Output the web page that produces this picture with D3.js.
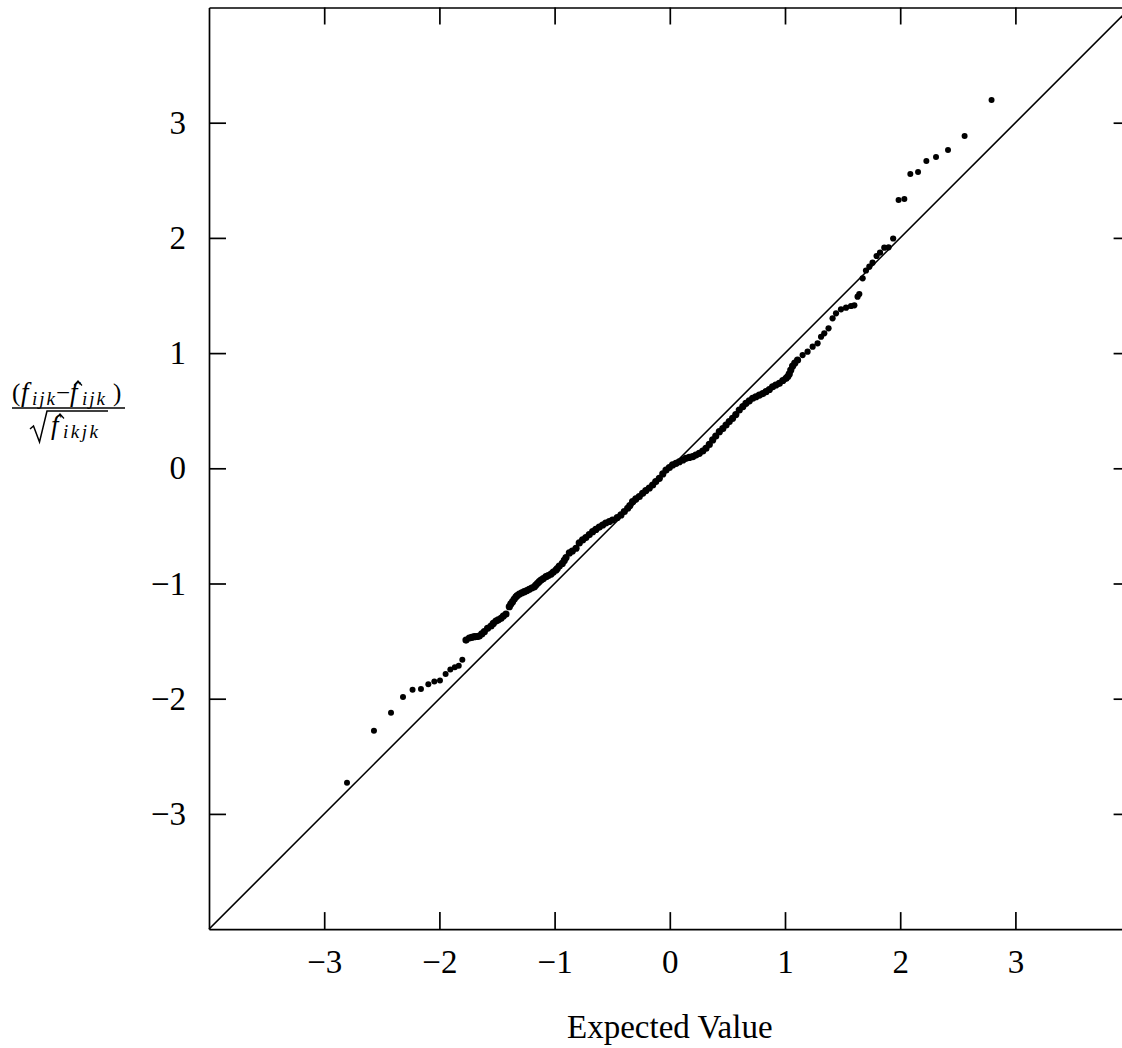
<!DOCTYPE html>
<html>
<head>
<meta charset="utf-8">
<script src="https://cdn.jsdelivr.net/npm/d3@7"></script>
<style>
body { margin: 0; background: #fff; }
</style>
</head>
<body>
<div id="qq-plot"></div>
<script>
// tick values
var xTicks = [-3, -2, -1, 0, 1, 2, 3];
var yTicks = [-3, -2, -1, 0, 1, 2, 3];
// reference line y = x, over the whole axis range
var refLine = [-4, 4];

// [expected value, standardized residual]
var lowerTail = [
  [-2.802, -2.729], [-2.568, -2.278], [-2.420, -2.122], [-2.316, -1.985], [-2.233, -1.922],
  [-2.160, -1.916], [-2.096, -1.875], [-2.044, -1.851], [-1.995, -1.842], [-1.946, -1.786],
  [-1.905, -1.747], [-1.866, -1.727], [-1.832, -1.714], [-1.801, -1.661]
];

// dense middle part, points overlap into a thick band
var body = [
  [-1.769, -1.491], [-1.740, -1.473], [-1.719, -1.467], [-1.697, -1.462], [-1.675, -1.460],
  [-1.654, -1.456], [-1.632, -1.438], [-1.610, -1.418], [-1.582, -1.389], [-1.552, -1.369],
  [-1.532, -1.347], [-1.509, -1.326], [-1.489, -1.315], [-1.465, -1.302], [-1.445, -1.282],
  [-1.422, -1.265], [-1.393, -1.201], [-1.380, -1.178], [-1.365, -1.158], [-1.350, -1.135],
  [-1.335, -1.115], [-1.324, -1.104], [-1.306, -1.091], [-1.285, -1.082], [-1.263, -1.071],
  [-1.241, -1.061], [-1.220, -1.050], [-1.198, -1.039], [-1.176, -1.028], [-1.163, -1.013],
  [-1.148, -0.998], [-1.133, -0.983], [-1.118, -0.970], [-1.098, -0.957], [-1.075, -0.941],
  [-1.055, -0.931], [-1.031, -0.918], [-1.011, -0.900], [-0.988, -0.883], [-0.977, -0.870],
  [-0.959, -0.848], [-0.933, -0.826], [-0.916, -0.800], [-0.901, -0.775], [-0.872, -0.735],
  [-0.846, -0.718], [-0.814, -0.694], [-0.786, -0.648], [-0.757, -0.622], [-0.729, -0.601],
  [-0.699, -0.575], [-0.670, -0.550], [-0.642, -0.531], [-0.612, -0.510], [-0.583, -0.492],
  [-0.556, -0.475], [-0.525, -0.462], [-0.497, -0.449], [-0.456, -0.427], [-0.424, -0.405],
  [-0.395, -0.375], [-0.366, -0.347], [-0.347, -0.323], [-0.323, -0.290], [-0.295, -0.266],
  [-0.265, -0.245], [-0.236, -0.217], [-0.208, -0.193], [-0.178, -0.171], [-0.149, -0.145],
  [-0.122, -0.115], [-0.091, -0.087], [-0.061, -0.049], [-0.033, -0.015], [-0.004, 0.007],
  [0.024, 0.029], [0.054, 0.043], [0.082, 0.057], [0.113, 0.072], [0.141, 0.087],
  [0.169, 0.094], [0.198, 0.101], [0.226, 0.115], [0.256, 0.130], [0.286, 0.150],
  [0.314, 0.174], [0.343, 0.207], [0.372, 0.246], [0.399, 0.280], [0.430, 0.318],
  [0.460, 0.345], [0.488, 0.376], [0.516, 0.406], [0.545, 0.434], [0.573, 0.467],
  [0.603, 0.506], [0.634, 0.536], [0.661, 0.564], [0.690, 0.586], [0.719, 0.608],
  [0.747, 0.621], [0.777, 0.636], [0.807, 0.649], [0.835, 0.665], [0.864, 0.684],
  [0.892, 0.708], [0.920, 0.723], [0.951, 0.738], [0.981, 0.762], [1.009, 0.781],
  [1.024, 0.797], [1.037, 0.819], [1.050, 0.853], [1.066, 0.888], [1.085, 0.914],
  [1.109, 0.940]
];

var upperBody = [
  [1.153, 0.983], [1.196, 1.012], [1.240, 1.056], [1.283, 1.085],
  [1.313, 1.142], [1.341, 1.172], [1.378, 1.215], [1.413, 1.302], [1.443, 1.345],
  [1.486, 1.380], [1.530, 1.394], [1.573, 1.409], [1.602, 1.415], [1.630, 1.490],
  [1.645, 1.513], [1.674, 1.649], [1.703, 1.717], [1.732, 1.750], [1.760, 1.785],
  [1.795, 1.843], [1.825, 1.872], [1.862, 1.915], [1.899, 1.918], [1.939, 1.995]
];

var upperTail = [
  [1.986, 2.329], [2.036, 2.338], [2.088, 2.555], [2.155, 2.572], [2.227, 2.668],
  [2.311, 2.703], [2.415, 2.764], [2.559, 2.885], [2.793, 3.197]
];

var xLabel = "Expected Value";

var W = 1122, H = 1048;
var plotLeft = 209, plotTop = 7.5, side = 921.6;
var serif = "'Liberation Serif', 'Times New Roman', serif";

var svg = d3.select("#qq-plot").append("svg")
  .attr("width", W)
  .attr("height", H);

var xScale = d3.scaleLinear().domain([-4, 4]).range([plotLeft, plotLeft + side]);
var yScale = d3.scaleLinear().domain([-4, 4]).range([plotTop + side, plotTop]);

// all four sides get inward ticks, only bottom and left get labels
function styleAxis(g) {
  g.select(".domain").attr("stroke", "#000").attr("stroke-width", 1.7);
  g.selectAll(".tick line").attr("stroke", "#000").attr("stroke-width", 1.7);
  g.selectAll("text")
    .attr("font-family", serif)
    .attr("font-size", 33)
    .attr("fill", "#000");
}

svg.append("g")
  .attr("transform", "translate(0," + (plotTop + side) + ")")
  .call(d3.axisBottom(xScale).tickValues(xTicks).tickSizeInner(-17).tickSizeOuter(0).tickPadding(20))
  .call(styleAxis);

svg.append("g")
  .attr("transform", "translate(0," + plotTop + ")")
  .call(d3.axisTop(xScale).tickValues(xTicks).tickSizeInner(-17).tickSizeOuter(0).tickFormat(""))
  .call(styleAxis);

svg.append("g")
  .attr("transform", "translate(" + plotLeft + ",0)")
  .call(d3.axisLeft(yScale).tickValues(yTicks).tickSizeInner(-17).tickSizeOuter(0).tickPadding(23))
  .call(styleAxis);

svg.append("g")
  .attr("transform", "translate(" + (plotLeft + side) + ",0)")
  .call(d3.axisRight(yScale).tickValues(yTicks).tickSizeInner(-17).tickSizeOuter(0).tickFormat(""))
  .call(styleAxis);

// y = x reference
svg.append("line")
  .attr("x1", xScale(refLine[0])).attr("y1", yScale(refLine[0]))
  .attr("x2", xScale(refLine[1])).attr("y2", yScale(refLine[1]))
  .attr("stroke", "#000")
  .attr("stroke-width", 1.5);

function dots(data, r) {
  svg.append("g").selectAll("circle")
    .data(data)
    .enter().append("circle")
    .attr("cx", function(d) { return xScale(d[0]); })
    .attr("cy", function(d) { return yScale(d[1]); })
    .attr("r", r)
    .attr("fill", "#000");
}
dots(lowerTail, 3);
dots(body, 3.6);
dots(upperBody, 3.1);
dots(upperTail, 3);

svg.append("text")
  .attr("x", xScale(0))
  .attr("y", 1038)
  .attr("text-anchor", "middle")
  .attr("font-family", serif)
  .attr("font-size", 33)
  .text(xLabel);

// y label: (f_ijk - f^_ijk) / sqrt(f^_ikjk), set piece by piece
var ylab = svg.append("g").attr("font-family", serif).attr("fill", "#000");

function piece(x, y, t, size, italic, spacing) {
  ylab.append("text")
    .attr("x", x).attr("y", y)
    .attr("font-size", size)
    .attr("font-style", italic ? "italic" : "normal")
    .attr("letter-spacing", spacing || 0)
    .text(t);
}
function hat(x, y) {
  ylab.append("path")
    .attr("d", "M" + x + "," + (y + 4.5) + "L" + (x + 4) + "," + y + "L" + (x + 8) + "," + (y + 4.5))
    .attr("fill", "none").attr("stroke", "#000").attr("stroke-width", 1.2);
}

// numerator
piece(12, 401, "(", 25, false);
piece(21, 401, "f", 27, true);
piece(32, 405, "ijk", 19, true, 2);
piece(56, 401, "\u2212", 25, false);
piece(70, 401, "f", 27, true);
hat(74, 381);
piece(82, 405, "ijk", 19, true, 2);
piece(113, 401, ")", 25, false);

// fraction bar
ylab.append("line")
  .attr("x1", 12).attr("x2", 125)
  .attr("y1", 408).attr("y2", 408)
  .attr("stroke", "#000").attr("stroke-width", 1.4);

// denominator with radical
ylab.append("path")
  .attr("d", "M30,429L33.5,426L39.5,442L47,411L108,411")
  .attr("fill", "none").attr("stroke", "#000").attr("stroke-width", 1.5);
piece(51, 434, "f", 27, true);
hat(56, 414);
piece(63, 438, "ikjk", 19, true, 2.5);
</script>
</body>
</html>
